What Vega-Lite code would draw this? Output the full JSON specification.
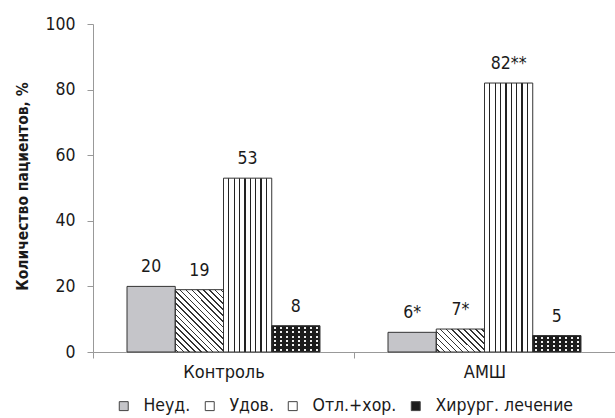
{
  "$schema": "https://vega.github.io/schema/vega-lite/v6.json",
  "width": 522,
  "height": 328,
  "autosize": "none",
  "padding": {"left": 93, "top": 24, "right": 0, "bottom": 66},
  "background": "white",
  "data": {"values": [
    {"group": "Контроль", "cat": "Неуд.", "value": 20, "label": "20"},
    {"group": "Контроль", "cat": "Удов.", "value": 19, "label": "19"},
    {"group": "Контроль", "cat": "Отл.+хор.", "value": 53, "label": "53"},
    {"group": "Контроль", "cat": "Хирург. лечение", "value": 8, "label": "8"},
    {"group": "АМШ", "cat": "Неуд.", "value": 6, "label": "6*"},
    {"group": "АМШ", "cat": "Удов.", "value": 7, "label": "7*"},
    {"group": "АМШ", "cat": "Отл.+хор.", "value": 82, "label": "82**"},
    {"group": "АМШ", "cat": "Хирург. лечение", "value": 5, "label": "5"}
  ]},
  "encoding": {
    "x": {"field": "group", "type": "nominal", "sort": ["Контроль", "АМШ"],
      "scale": {"paddingInner": 0, "paddingOuter": 0},
      "axis": {"title": null, "labelAngle": 0, "tickBand": "extent", "domainColor": "#999", "tickColor": "#999", "tickSize": 6, "labelFontSize": 18, "labelPadding": 5, "labelColor": "#1a1a1a"}},
    "xOffset": {"field": "cat", "type": "nominal", "sort": ["Неуд.", "Удов.", "Отл.+хор.", "Хирург. лечение"],
      "scale": {"domain": ["Неуд.", "Удов.", "Отл.+хор.", "Хирург. лечение"], "paddingInner": 0, "paddingOuter": 0.705}},
    "y": {"field": "value", "type": "quantitative",
      "scale": {"domain": [0, 100]},
      "axis": {"title": "Количество пациентов, %", "values": [0, 20, 40, 60, 80, 100], "grid": false, "tickSize": 6, "labelPadding": 12, "labelFontSize": 17.5, "labelColor": "#1a1a1a", "domainColor": "#999", "tickColor": "#999", "titleFontSize": 15.5, "titleFontWeight": "bold", "titleColor": "#1a1a1a", "titleX": -66, "titleY": 162, "titleBaseline": "alphabetic", "titleAlign": "center", "titleAngle": -90}}
  },
  "layer": [
    {
      "mark": {"type": "bar"},
      "encoding": {
        "color": {"field": "cat", "type": "nominal",
          "scale": {"domain": ["Неуд.", "Удов.", "Отл.+хор.", "Хирург. лечение"], "range": ["#c5c5c9", "#ffffff", "#ffffff", "#1c1c1c"]},
          "legend": {"title": null, "orient": "none", "direction": "horizontal", "legendX": 22, "legendY": 373, "symbolType": "square", "symbolSize": 80, "symbolStrokeColor": "#444", "symbolStrokeWidth": 1, "labelFontSize": 17.5, "labelColor": "#1a1a1a", "labelOffset": 11, "columnPadding": 10, "padding": 0, "symbolOpacity": 1}}
      }
    },
    {
      "transform": [{"filter": "datum.group === 'Контроль' && datum.cat === 'Удов.'"}],
      "mark": {"type": "bar", "fill": {"gradient": "linear", "x1": 0, "y1": 1, "x2": 0.859, "y2": -0.109, "stops": [
        {"offset": 0.0189, "color": "rgba(0,0,0,0)"}, {"offset": 0.0189, "color": "#333"}, {"offset": 0.0337, "color": "#333"}, {"offset": 0.0337, "color": "rgba(0,0,0,0)"},
        {"offset": 0.0716, "color": "rgba(0,0,0,0)"}, {"offset": 0.0716, "color": "#333"}, {"offset": 0.0863, "color": "#333"}, {"offset": 0.0863, "color": "rgba(0,0,0,0)"},
        {"offset": 0.1242, "color": "rgba(0,0,0,0)"}, {"offset": 0.1242, "color": "#333"}, {"offset": 0.1389, "color": "#333"}, {"offset": 0.1389, "color": "rgba(0,0,0,0)"},
        {"offset": 0.1768, "color": "rgba(0,0,0,0)"}, {"offset": 0.1768, "color": "#333"}, {"offset": 0.1916, "color": "#333"}, {"offset": 0.1916, "color": "rgba(0,0,0,0)"},
        {"offset": 0.2295, "color": "rgba(0,0,0,0)"}, {"offset": 0.2295, "color": "#333"}, {"offset": 0.2442, "color": "#333"}, {"offset": 0.2442, "color": "rgba(0,0,0,0)"},
        {"offset": 0.2821, "color": "rgba(0,0,0,0)"}, {"offset": 0.2821, "color": "#333"}, {"offset": 0.2968, "color": "#333"}, {"offset": 0.2968, "color": "rgba(0,0,0,0)"},
        {"offset": 0.3347, "color": "rgba(0,0,0,0)"}, {"offset": 0.3347, "color": "#333"}, {"offset": 0.3495, "color": "#333"}, {"offset": 0.3495, "color": "rgba(0,0,0,0)"},
        {"offset": 0.3874, "color": "rgba(0,0,0,0)"}, {"offset": 0.3874, "color": "#333"}, {"offset": 0.4021, "color": "#333"}, {"offset": 0.4021, "color": "rgba(0,0,0,0)"},
        {"offset": 0.4400, "color": "rgba(0,0,0,0)"}, {"offset": 0.4400, "color": "#333"}, {"offset": 0.4547, "color": "#333"}, {"offset": 0.4547, "color": "rgba(0,0,0,0)"},
        {"offset": 0.4926, "color": "rgba(0,0,0,0)"}, {"offset": 0.4926, "color": "#333"}, {"offset": 0.5074, "color": "#333"}, {"offset": 0.5074, "color": "rgba(0,0,0,0)"},
        {"offset": 0.5453, "color": "rgba(0,0,0,0)"}, {"offset": 0.5453, "color": "#333"}, {"offset": 0.5600, "color": "#333"}, {"offset": 0.5600, "color": "rgba(0,0,0,0)"},
        {"offset": 0.5979, "color": "rgba(0,0,0,0)"}, {"offset": 0.5979, "color": "#333"}, {"offset": 0.6126, "color": "#333"}, {"offset": 0.6126, "color": "rgba(0,0,0,0)"},
        {"offset": 0.6505, "color": "rgba(0,0,0,0)"}, {"offset": 0.6505, "color": "#333"}, {"offset": 0.6653, "color": "#333"}, {"offset": 0.6653, "color": "rgba(0,0,0,0)"},
        {"offset": 0.7032, "color": "rgba(0,0,0,0)"}, {"offset": 0.7032, "color": "#333"}, {"offset": 0.7179, "color": "#333"}, {"offset": 0.7179, "color": "rgba(0,0,0,0)"},
        {"offset": 0.7558, "color": "rgba(0,0,0,0)"}, {"offset": 0.7558, "color": "#333"}, {"offset": 0.7705, "color": "#333"}, {"offset": 0.7705, "color": "rgba(0,0,0,0)"},
        {"offset": 0.8084, "color": "rgba(0,0,0,0)"}, {"offset": 0.8084, "color": "#333"}, {"offset": 0.8232, "color": "#333"}, {"offset": 0.8232, "color": "rgba(0,0,0,0)"},
        {"offset": 0.8611, "color": "rgba(0,0,0,0)"}, {"offset": 0.8611, "color": "#333"}, {"offset": 0.8758, "color": "#333"}, {"offset": 0.8758, "color": "rgba(0,0,0,0)"},
        {"offset": 0.9137, "color": "rgba(0,0,0,0)"}, {"offset": 0.9137, "color": "#333"}, {"offset": 0.9284, "color": "#333"}, {"offset": 0.9284, "color": "rgba(0,0,0,0)"},
        {"offset": 0.9663, "color": "rgba(0,0,0,0)"}, {"offset": 0.9663, "color": "#333"}, {"offset": 0.9811, "color": "#333"}, {"offset": 0.9811, "color": "rgba(0,0,0,0)"}
      ]}}
    },
    {
      "transform": [{"filter": "datum.group === 'АМШ' && datum.cat === 'Удов.'"}],
      "mark": {"type": "bar", "fill": {"gradient": "linear", "x1": 0, "y1": 1, "x2": 1.203, "y2": 0.426, "stops": [
        {"offset": 0.0300, "color": "rgba(0,0,0,0)"}, {"offset": 0.0300, "color": "#333"}, {"offset": 0.0533, "color": "#333"}, {"offset": 0.0533, "color": "rgba(0,0,0,0)"},
        {"offset": 0.1133, "color": "rgba(0,0,0,0)"}, {"offset": 0.1133, "color": "#333"}, {"offset": 0.1367, "color": "#333"}, {"offset": 0.1367, "color": "rgba(0,0,0,0)"},
        {"offset": 0.1967, "color": "rgba(0,0,0,0)"}, {"offset": 0.1967, "color": "#333"}, {"offset": 0.2200, "color": "#333"}, {"offset": 0.2200, "color": "rgba(0,0,0,0)"},
        {"offset": 0.2800, "color": "rgba(0,0,0,0)"}, {"offset": 0.2800, "color": "#333"}, {"offset": 0.3033, "color": "#333"}, {"offset": 0.3033, "color": "rgba(0,0,0,0)"},
        {"offset": 0.3633, "color": "rgba(0,0,0,0)"}, {"offset": 0.3633, "color": "#333"}, {"offset": 0.3867, "color": "#333"}, {"offset": 0.3867, "color": "rgba(0,0,0,0)"},
        {"offset": 0.4467, "color": "rgba(0,0,0,0)"}, {"offset": 0.4467, "color": "#333"}, {"offset": 0.4700, "color": "#333"}, {"offset": 0.4700, "color": "rgba(0,0,0,0)"},
        {"offset": 0.5300, "color": "rgba(0,0,0,0)"}, {"offset": 0.5300, "color": "#333"}, {"offset": 0.5533, "color": "#333"}, {"offset": 0.5533, "color": "rgba(0,0,0,0)"},
        {"offset": 0.6133, "color": "rgba(0,0,0,0)"}, {"offset": 0.6133, "color": "#333"}, {"offset": 0.6367, "color": "#333"}, {"offset": 0.6367, "color": "rgba(0,0,0,0)"},
        {"offset": 0.6967, "color": "rgba(0,0,0,0)"}, {"offset": 0.6967, "color": "#333"}, {"offset": 0.7200, "color": "#333"}, {"offset": 0.7200, "color": "rgba(0,0,0,0)"},
        {"offset": 0.7800, "color": "rgba(0,0,0,0)"}, {"offset": 0.7800, "color": "#333"}, {"offset": 0.8033, "color": "#333"}, {"offset": 0.8033, "color": "rgba(0,0,0,0)"},
        {"offset": 0.8633, "color": "rgba(0,0,0,0)"}, {"offset": 0.8633, "color": "#333"}, {"offset": 0.8867, "color": "#333"}, {"offset": 0.8867, "color": "rgba(0,0,0,0)"},
        {"offset": 0.9467, "color": "rgba(0,0,0,0)"}, {"offset": 0.9467, "color": "#333"}, {"offset": 0.9700, "color": "#333"}, {"offset": 0.9700, "color": "rgba(0,0,0,0)"}
      ]}}
    },
    {
      "transform": [{"filter": "datum.cat === 'Отл.+хор.'"}],
      "mark": {"type": "bar", "fill": {"gradient": "linear", "x1": 0, "y1": 0, "x2": 1, "y2": 0, "stops": [
        {"offset": 0.0986, "color": "rgba(0,0,0,0)"}, {"offset": 0.0986, "color": "#222"}, {"offset": 0.1236, "color": "#222"}, {"offset": 0.1236, "color": "rgba(0,0,0,0)"},
        {"offset": 0.2097, "color": "rgba(0,0,0,0)"}, {"offset": 0.2097, "color": "#222"}, {"offset": 0.2347, "color": "#222"}, {"offset": 0.2347, "color": "rgba(0,0,0,0)"},
        {"offset": 0.3208, "color": "rgba(0,0,0,0)"}, {"offset": 0.3208, "color": "#222"}, {"offset": 0.3458, "color": "#222"}, {"offset": 0.3458, "color": "rgba(0,0,0,0)"},
        {"offset": 0.4319, "color": "rgba(0,0,0,0)"}, {"offset": 0.4319, "color": "#222"}, {"offset": 0.4569, "color": "#222"}, {"offset": 0.4569, "color": "rgba(0,0,0,0)"},
        {"offset": 0.5431, "color": "rgba(0,0,0,0)"}, {"offset": 0.5431, "color": "#222"}, {"offset": 0.5681, "color": "#222"}, {"offset": 0.5681, "color": "rgba(0,0,0,0)"},
        {"offset": 0.6542, "color": "rgba(0,0,0,0)"}, {"offset": 0.6542, "color": "#222"}, {"offset": 0.6792, "color": "#222"}, {"offset": 0.6792, "color": "rgba(0,0,0,0)"},
        {"offset": 0.7653, "color": "rgba(0,0,0,0)"}, {"offset": 0.7653, "color": "#222"}, {"offset": 0.7903, "color": "#222"}, {"offset": 0.7903, "color": "rgba(0,0,0,0)"},
        {"offset": 0.8764, "color": "rgba(0,0,0,0)"}, {"offset": 0.8764, "color": "#222"}, {"offset": 0.9014, "color": "#222"}, {"offset": 0.9014, "color": "rgba(0,0,0,0)"}
      ]}}
    },
    {
      "transform": [{"filter": "datum.cat === 'Хирург. лечение'"}],
      "mark": {"type": "bar", "fill": {"gradient": "linear", "x1": 0, "y1": 0, "x2": 1, "y2": 0, "stops": [
        {"offset": 0.0425, "color": "rgba(0,0,0,0)"}, {"offset": 0.0425, "color": "#eeeeee"}, {"offset": 0.0825, "color": "#eeeeee"}, {"offset": 0.0825, "color": "rgba(0,0,0,0)"},
        {"offset": 0.1675, "color": "rgba(0,0,0,0)"}, {"offset": 0.1675, "color": "#eeeeee"}, {"offset": 0.2075, "color": "#eeeeee"}, {"offset": 0.2075, "color": "rgba(0,0,0,0)"},
        {"offset": 0.2925, "color": "rgba(0,0,0,0)"}, {"offset": 0.2925, "color": "#eeeeee"}, {"offset": 0.3325, "color": "#eeeeee"}, {"offset": 0.3325, "color": "rgba(0,0,0,0)"},
        {"offset": 0.4175, "color": "rgba(0,0,0,0)"}, {"offset": 0.4175, "color": "#eeeeee"}, {"offset": 0.4575, "color": "#eeeeee"}, {"offset": 0.4575, "color": "rgba(0,0,0,0)"},
        {"offset": 0.5425, "color": "rgba(0,0,0,0)"}, {"offset": 0.5425, "color": "#eeeeee"}, {"offset": 0.5825, "color": "#eeeeee"}, {"offset": 0.5825, "color": "rgba(0,0,0,0)"},
        {"offset": 0.6675, "color": "rgba(0,0,0,0)"}, {"offset": 0.6675, "color": "#eeeeee"}, {"offset": 0.7075, "color": "#eeeeee"}, {"offset": 0.7075, "color": "rgba(0,0,0,0)"},
        {"offset": 0.7925, "color": "rgba(0,0,0,0)"}, {"offset": 0.7925, "color": "#eeeeee"}, {"offset": 0.8325, "color": "#eeeeee"}, {"offset": 0.8325, "color": "rgba(0,0,0,0)"},
        {"offset": 0.9175, "color": "rgba(0,0,0,0)"}, {"offset": 0.9175, "color": "#eeeeee"}, {"offset": 0.9575, "color": "#eeeeee"}, {"offset": 0.9575, "color": "rgba(0,0,0,0)"}
      ]}}
    },
    {
      "transform": [{"filter": "datum.group === 'Контроль' && datum.cat === 'Хирург. лечение'"}],
      "mark": {"type": "bar", "fill": {"gradient": "linear", "x1": 0, "y1": 0, "x2": 0, "y2": 1, "stops": [
        {"offset": 0, "color": "#1c1c1c"}, {"offset": 0.045, "color": "#1c1c1c"}, {"offset": 0.045, "color": "rgba(0,0,0,0)"}, {"offset": 0.121, "color": "rgba(0,0,0,0)"},
        {"offset": 0.121, "color": "#1c1c1c"}, {"offset": 0.212, "color": "#1c1c1c"}, {"offset": 0.212, "color": "rgba(0,0,0,0)"}, {"offset": 0.288, "color": "rgba(0,0,0,0)"},
        {"offset": 0.288, "color": "#1c1c1c"}, {"offset": 0.379, "color": "#1c1c1c"}, {"offset": 0.379, "color": "rgba(0,0,0,0)"}, {"offset": 0.455, "color": "rgba(0,0,0,0)"},
        {"offset": 0.455, "color": "#1c1c1c"}, {"offset": 0.545, "color": "#1c1c1c"}, {"offset": 0.545, "color": "rgba(0,0,0,0)"}, {"offset": 0.621, "color": "rgba(0,0,0,0)"},
        {"offset": 0.621, "color": "#1c1c1c"}, {"offset": 0.712, "color": "#1c1c1c"}, {"offset": 0.712, "color": "rgba(0,0,0,0)"}, {"offset": 0.788, "color": "rgba(0,0,0,0)"},
        {"offset": 0.788, "color": "#1c1c1c"}, {"offset": 0.879, "color": "#1c1c1c"}, {"offset": 0.879, "color": "rgba(0,0,0,0)"}, {"offset": 0.955, "color": "rgba(0,0,0,0)"},
        {"offset": 0.955, "color": "#1c1c1c"}, {"offset": 1, "color": "#1c1c1c"}
      ]}}
    },
    {
      "transform": [{"filter": "datum.group === 'АМШ' && datum.cat === 'Хирург. лечение'"}],
      "mark": {"type": "bar", "fill": {"gradient": "linear", "x1": 0, "y1": 0, "x2": 0, "y2": 1, "stops": [
        {"offset": 0, "color": "#1c1c1c"}, {"offset": 0.064, "color": "#1c1c1c"}, {"offset": 0.064, "color": "rgba(0,0,0,0)"}, {"offset": 0.186, "color": "rgba(0,0,0,0)"},
        {"offset": 0.186, "color": "#1c1c1c"}, {"offset": 0.314, "color": "#1c1c1c"}, {"offset": 0.314, "color": "rgba(0,0,0,0)"}, {"offset": 0.436, "color": "rgba(0,0,0,0)"},
        {"offset": 0.436, "color": "#1c1c1c"}, {"offset": 0.564, "color": "#1c1c1c"}, {"offset": 0.564, "color": "rgba(0,0,0,0)"}, {"offset": 0.686, "color": "rgba(0,0,0,0)"},
        {"offset": 0.686, "color": "#1c1c1c"}, {"offset": 0.814, "color": "#1c1c1c"}, {"offset": 0.814, "color": "rgba(0,0,0,0)"}, {"offset": 0.936, "color": "rgba(0,0,0,0)"},
        {"offset": 0.936, "color": "#1c1c1c"}, {"offset": 1, "color": "#1c1c1c"}
      ]}}
    },
    {
      "mark": {"type": "bar", "fillOpacity": 0, "stroke": "#333", "strokeWidth": 1}
    },
    {
      "mark": {"type": "text", "baseline": "alphabetic", "dy": -14, "fontSize": 17.5, "color": "#1a1a1a"},
      "encoding": {"text": {"field": "label"}}
    }
  ],
  "config": {
    "view": {"stroke": null},
    "font": "DejaVu Sans Condensed, Liberation Sans Narrow, sans-serif"
  }
}
